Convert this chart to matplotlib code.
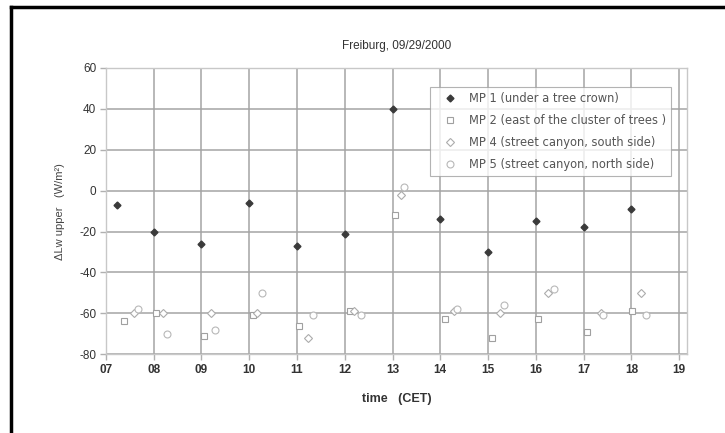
import matplotlib
matplotlib.use("Agg")
import matplotlib.pyplot as plt
from matplotlib.lines import Line2D

plt.rcParams['font.family'] = ['Liberation Sans', 'DejaVu Sans']
plt.rcParams['axes.unicode_minus'] = False

# MP 1 (under a tree crown)
hours_mp1 = [7.23, 8.0, 9.0, 10.0, 11.0, 12.0, 13.0, 14.0, 15.0, 16.0, 17.0, 18.0]
mp1 = [-7, -20, -26, -6, -27, -21, 40, -14, -30, -15, -18, -9]

# MP 2 (east of the cluster of trees)
hours_mp2 = [7.37, 8.04, 9.05, 10.09, 11.04, 12.1, 13.05, 14.09, 15.08, 16.04, 17.08, 18.02]
mp2 = [-64, -60, -71, -61, -66, -59, -12, -63, -72, -63, -69, -59]

# MP 4 (street canyon, south side)
hours_mp4 = [7.59, 8.2, 9.2, 10.17, 11.23, 12.2, 13.17, 14.28, 15.25, 16.25, 17.36, 18.21]
mp4 = [-60, -60, -60, -60, -72, -59, -2, -59, -60, -50, -60, -50]

# MP 5 (street canyon, north side)
hours_mp5 = [7.67, 8.28, 9.29, 10.26, 11.34, 12.34, 13.25, 14.35, 15.34, 16.37, 17.4, 18.31]
mp5 = [-58, -70, -68, -50, -61, -61, 2, -58, -56, -48, -61, -61]

labels = ["MP 1 (under a tree crown)",
          "MP 2 (east of the cluster of trees )",
          "MP 4 (street canyon, south side)",
          "MP 5 (street canyon, north side)"]

xticks = list(range(7, 20))
xticklabels = ["%02d" % h for h in xticks]
yticks = list(range(-80, 61, 20))

fig = plt.figure(figsize=(7.25, 4.33), dpi=100)
ax = fig.add_axes([0.146, 0.182, 0.802, 0.661])

ax.plot(hours_mp1, mp1, linestyle="none", marker="D", ms=3.5, color="#3a3a3a",
        label=labels[0], zorder=3)
ax.plot(hours_mp2, mp2, linestyle="none", marker="s", ms=5, mfc="white",
        mec="#a0a0a0", mew=0.8, label=labels[1], zorder=3)
ax.plot(hours_mp4, mp4, linestyle="none", marker="D", ms=4.5, mfc="white",
        mec="#acacac", mew=0.8, label=labels[2], zorder=3)
ax.plot(hours_mp5, mp5, linestyle="none", marker="o", ms=5, mfc="white",
        mec="#b8b8b8", mew=0.8, label=labels[3], zorder=3)

ax.set_xlim(7, 19.17)
ax.set_ylim(-80, 60)
ax.set_xticks(xticks)
ax.set_xticklabels(xticklabels)
ax.set_yticks(yticks)
ax.grid(True, color="#a4a4a4", linewidth=1.1)
ax.set_axisbelow(True)
for s in ax.spines.values():
    s.set_color("#c8c8c8")
    s.set_linewidth(1.0)
ax.tick_params(axis="both", length=4, width=1, color="#b0b0b0",
               labelsize=8.5, labelcolor="#333333", pad=3)
for t in ax.get_xticklabels():
    t.set_fontweight("bold")

ax.set_title("Freiburg, 09/29/2000", fontsize=8.5, color="#333333", pad=14)
ax.set_xlabel("time   (CET)", fontsize=9, fontweight="bold", color="#333333",
              labelpad=12)
ax.set_ylabel("ΔLw upper   (W/m²)", fontsize=8, color="#444444", labelpad=10)

leg = ax.legend(loc="upper right", bbox_to_anchor=(0.972, 0.934),
                prop={"family": "DejaVu Sans", "size": 8.3},
                frameon=True, fancybox=False, labelspacing=0.77,
                handletextpad=0.3, borderpad=0.45, handlelength=2.6,
                borderaxespad=0)
leg.get_frame().set_edgecolor("#a0a0a0")
leg.get_frame().set_linewidth(0.8)
for t in leg.get_texts():
    t.set_color("#555555")

# outer frame remnants (top and left)
fig.add_artist(Line2D([0.0152, 1.0], [0.984, 0.984], color="black", lw=2.5,
                      transform=fig.transFigure))
fig.add_artist(Line2D([0.0152, 0.0152], [0.0, 0.984], color="black", lw=2.5,
                      transform=fig.transFigure))

fig.savefig("out.png", dpi=100)
